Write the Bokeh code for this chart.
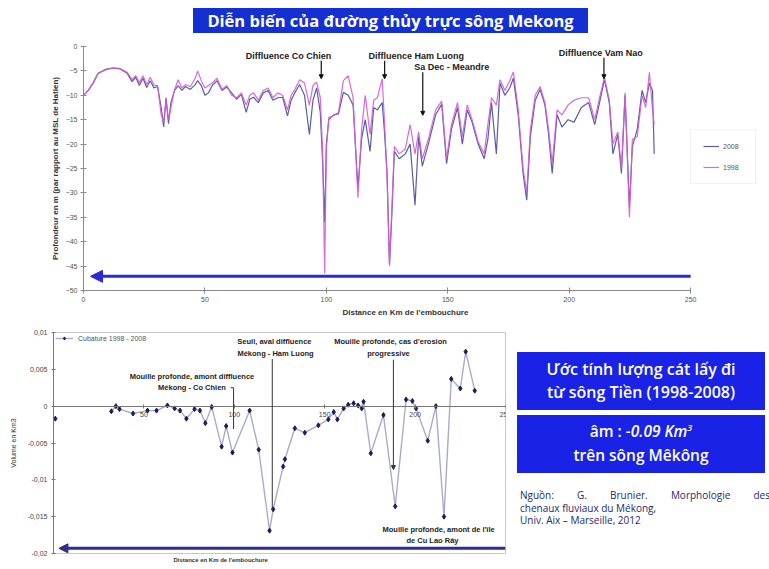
from bokeh.plotting import figure
from bokeh.models import (Legend, LegendItem, Arrow, NormalHead, Label, Div,
                          FixedTicker, Title, CustomJSTickFormatter, ColumnDataSource)
from bokeh.layouts import column, row
from bokeh.embed import file_html
from bokeh.resources import INLINE

# ---------------- data: top chart (thalweg depth, m) ----------------
km = [0, 2, 4, 6, 9, 12, 15, 18, 20, 21.5, 23, 24.5, 26, 27.5, 29, 30.5, 32, 33, 34, 35,
      36, 37.5, 39, 40.5, 42, 44, 46, 47, 48.5, 50, 51.5, 53, 55, 57, 59, 61, 63, 65, 67, 68.5,
      70, 72, 74, 76, 78, 80, 82, 84, 85.5, 87, 89, 91, 93, 94.5, 96, 97.5, 98.5, 99.3, 100, 101,
      103, 105, 107, 109, 111, 113, 114.5, 116, 118, 119.5, 121, 123, 124, 125, 126, 127, 128, 130,
      132.5, 134.5, 136.5, 138, 139.5, 142, 145, 147.5, 149.5, 151.5, 154, 156, 158, 160, 162.5,
      165, 166.5, 168, 170, 171.5, 173.5, 175.5, 177, 179, 181, 182.5, 184, 186, 188, 190, 191.5,
      193, 195, 197, 199.5, 202, 205, 208, 210.5, 212.5, 214.5, 216.5, 218, 220, 221.5, 223,
      224.8, 226, 228, 230, 231.5, 233, 234.3, 235]
depth_2008 = [-10, -9, -7.4, -5.5, -4.7, -4.4, -4.6, -5.5, -7.2, -6.3, -8.0, -6.5, -8.4, -7.0, -8.5,
              -8.2, -12.5, -16.5, -10.5, -15.8, -11.5, -9.0, -8.0, -9.0, -8.2, -8.8, -7.8, -7.0,
              -8.0, -10.0, -9.5, -8.0, -7.0, -9.0, -8.3, -9.5, -10.8, -9.8, -13.5, -10.8, -10.4,
              -11.5, -9.5, -9.0, -11.0, -10.5, -10.4, -14.2, -11.0, -9.5, -7.8, -10.0, -18.0,
              -11.0, -8.5, -13.5, -24.0, -36.0, -20.0, -15.0, -14.0, -13.8, -9.4, -10.0, -12.0,
              -29.0, -19.0, -15.0, -21.5, -12.5, -13.0, -11.5, -18.0, -26.0, -44.5, -34.0, -21.5,
              -23.0, -22.0, -20.0, -32.5, -18.5, -24.5, -20.0, -14.0, -11.8, -24.0, -17.0, -12.5,
              -20.0, -13.0, -15.5, -20.0, -23.0, -19.0, -11.5, -22.0, -7.5, -10.0, -8.5, -6.5,
              -14.0, -26.0, -31.5, -18.5, -11.0, -8.8, -12.0, -18.0, -26.0, -14.0, -16.5, -15.0,
              -15.5, -12.5, -11.5, -16.0, -11.5, -6.8, -11.5, -22.0, -18.0, -26.0, -10.0, -33.0,
              -20.5, -17.0, -9.0, -11.5, -7.5, -9.0, -22.0]
depth_1998 = [-10, -9, -7.5, -5.6, -4.8, -4.4, -4.5, -5.3, -6.8, -6.0, -7.4, -6.0, -7.8, -6.3, -7.9,
              -8.0, -14.0, -15.5, -11.0, -15.0, -12.5, -8.8, -6.8, -8.5, -7.8, -8.2, -6.5, -5.0,
              -7.0, -8.5, -8.0, -7.5, -6.5, -8.8, -8.0, -10.0, -10.5, -9.5, -12.0, -10.0, -9.5,
              -11.0, -9.0, -8.5, -10.5, -9.5, -10.0, -13.0, -10.0, -8.8, -6.8, -7.5, -12.0, -8.0,
              -7.3, -10.5, -22.0, -46.5, -21.0, -14.5, -14.2, -13.5, -7.0, -6.0, -10.5, -31.0,
              -17.0, -10.0, -18.0, -11.0, -10.5, -6.6, -16.0, -27.0, -45.0, -33.0, -20.5, -22.0,
              -21.0, -16.0, -22.0, -17.5, -23.0, -19.0, -13.0, -11.2, -23.0, -16.0, -11.5, -18.5,
              -12.0, -15.0, -19.5, -22.0, -16.0, -10.5, -12.0, -6.8, -9.0, -7.0, -5.2, -13.0,
              -25.0, -30.0, -17.0, -10.0, -8.2, -11.5, -17.0, -24.0, -13.0, -14.0, -12.0, -11.0,
              -10.5, -10.5, -15.0, -10.5, -6.3, -11.0, -20.0, -17.5, -25.0, -9.5, -35.0, -19.0,
              -18.5, -10.0, -12.5, -5.3, -13.0, -16.0]
top_x_ticks = [0, 50, 100, 150, 200, 250]
top_y_ticks = [0, -5, -10, -15, -20, -25, -30, -35, -40, -45, -50]

# ---------------- data: bottom chart (volume, km3) ----------------
vol_km = [1, 32, 34.5, 36.5, 44, 52, 57, 63, 67, 70, 73.5, 78, 81, 84, 87.5, 93, 95.5, 99,
          108.5, 113.5, 119.5, 121.5, 127, 128, 133.5, 139, 146.5, 152, 155, 157, 160.5, 163,
          166, 168.5, 170.5, 171.5, 175.5, 182.5, 189, 195, 198.5, 200.5, 207, 211.5, 216, 220,
          225, 228, 233]
vol = [-0.0017, -0.0007, 0.0, -0.0004, -0.001, -0.0006, -0.0006, 0.0001, -0.0003, -0.0006,
       -0.0017, -0.0004, -0.0006, -0.0023, -0.0001, -0.0055, -0.0027, -0.0063, -0.0006, -0.0059,
       -0.0169, -0.014, -0.0082, -0.0072, -0.003, -0.0036, -0.0026, -0.0018, -0.0008, -0.0018,
       -0.0003, 0.0002, 0.0004, 0.0001, -0.0003, 0.0006, -0.0064, -0.0012, -0.0136, 0.0009,
       0.0007, -0.0003, -0.0047, 0.0, -0.015, 0.0037, 0.0024, 0.0074, 0.0021]
bot_x_ticks = [50, 100, 150, 200, 250]
bot_y_ticks = [-0.02, -0.015, -0.01, -0.005, 0, 0.005, 0.01]

FONT = "Liberation Sans"
AXC = "#8a8a8a"
TXT = "#333333"

# ---------------- title box ----------------
title_div = Div(
    text='<div style="margin-left:193px;margin-top:8px;width:395px;height:25px;background:#1530d2;'
         'color:#ffffff;font-family:\'Open Sans\';font-weight:700;font-size:16.5px;line-height:25px;'
         'text-align:center;white-space:nowrap;">Diễn biến của đường thủy trực sông Mekong</div>',
    width=765, height=38, margin=(0, 0, 0, 0))

# ---------------- top chart ----------------
top = figure(width=765, height=282, x_range=(0, 280), y_range=(-50, 0),
             output_backend="svg", toolbar_location=None,
             min_border_left=83, min_border_right=2, min_border_top=8, min_border_bottom=30)
top.outline_line_color = None
top.grid.visible = False
top.xaxis.ticker = FixedTicker(ticks=top_x_ticks)
top.xaxis.bounds = (0, 250)
top.yaxis.ticker = FixedTicker(ticks=top_y_ticks)
for ax in (top.xaxis[0], top.yaxis[0]):
    ax.axis_line_color = AXC
    ax.major_tick_line_color = AXC
    ax.minor_tick_line_color = None
    ax.major_tick_in = 3
    ax.major_tick_out = 3
    ax.major_label_text_font = FONT
    ax.major_label_text_font_size = "7px"
    ax.major_label_text_color = "#555555"
    ax.major_label_standoff = 3
    ax.axis_label_text_font = FONT
    ax.axis_label_text_font_size = "8px"
    ax.axis_label_text_font_style = "bold"
    ax.axis_label_text_color = TXT
    ax.axis_label_standoff = 3
top.yaxis.axis_label = "Profondeur en m (par rapport au MSL de Hatien)"
top.add_layout(Title(text="Distance en Km de l'embouchure", align="left", offset=259,
                     text_font=FONT, text_font_size="8px", text_font_style="bold",
                     text_color=TXT, standoff=2), "below")

r08 = top.line(km, depth_2008, line_color="#5a5ea6", line_width=1.2)
r98 = top.line(km, depth_1998, line_color="#d55ad5", line_width=1.2, line_alpha=0.9)

legend = Legend(items=[LegendItem(label="2008", renderers=[r08]),
                       LegendItem(label="1998", renderers=[r98])],
                location=(607, 106), margin=0, padding=12, spacing=13,
                glyph_width=16, glyph_height=8, label_standoff=4,
                label_text_font=FONT, label_text_font_size="7px", label_text_color="#555555",
                border_line_color="#e4e4e4", background_fill_alpha=1)
top.add_layout(legend)

top_notes = [("Diffluence Co Chien", 84.4, -1.85), ("Diffluence Ham Luong", 137.0, -1.85),
             ("Sa Dec - Meandre", 151.6, -4.3), ("Diffluence Vam Nao", 213.0, -1.4)]
for t, x, y in top_notes:
    top.add_layout(Label(x=x, y=y, text=t, text_align="center", text_baseline="middle",
                         text_font=FONT, text_font_size="9px", text_font_style="bold",
                         text_color="#222222"))
top_arrows = [(97.9, -2.9, -6.6), (124.0, -2.9, -6.6), (139.7, -5.3, -14.1), (214.3, -2.3, -6.6)]
for x, y0, y1 in top_arrows:
    top.add_layout(Arrow(x_start=x, y_start=y0, x_end=x, y_end=y1, line_color="#111111",
                         line_width=1.2,
                         end=NormalHead(size=4, fill_color="#111111", line_color="#111111")))
top.add_layout(Arrow(x_start=250, y_start=-47.1, x_end=2.9, y_end=-47.1,
                     line_color="#2a2ad8", line_width=3,
                     end=NormalHead(size=12, fill_color="#2a2ad8", line_color="#2a2ad8")))

# ---------------- bottom chart ----------------
bot = figure(width=515, height=247, x_range=(0, 250), y_range=(-0.02, 0.01),
             output_backend="svg", toolbar_location=None,
             min_border_left=53, min_border_right=10, min_border_top=12, min_border_bottom=14)
bot.outline_line_color = "#c8c8c8"
bot.grid.visible = False
bot.xaxis.fixed_location = 0
bot.xaxis.ticker = FixedTicker(ticks=bot_x_ticks)
bot.yaxis.ticker = FixedTicker(ticks=bot_y_ticks)
bot.yaxis.formatter = CustomJSTickFormatter(code="return tick.toString().replace('.', ',');")
for ax in (bot.xaxis[0], bot.yaxis[0]):
    ax.axis_line_color = "#777777"
    ax.major_tick_line_color = "#777777"
    ax.minor_tick_line_color = None
    ax.major_tick_in = 2
    ax.major_tick_out = 2
    ax.major_label_text_font = FONT
    ax.major_label_text_font_size = "7px"
    ax.major_label_text_color = "#444444"
    ax.major_label_standoff = 4
bot.yaxis.axis_label = "Volume en Km3"
bot.yaxis.axis_label_text_font = FONT
bot.yaxis.axis_label_text_font_size = "7px"
bot.yaxis.axis_label_text_font_style = "normal"
bot.yaxis.axis_label_text_color = TXT
bot.yaxis.axis_label_standoff = 8
bot.add_layout(Title(text="Distance en Km de l'embouchure", align="left", offset=120,
                     text_font=FONT, text_font_size="6px", text_font_style="bold",
                     text_color=TXT, standoff=3), "below")

src_line = ColumnDataSource(dict(x=vol_km[1:], y=vol[1:]))
src_pts = ColumnDataSource(dict(x=vol_km, y=vol))
rl = bot.line("x", "y", source=src_line, line_color="#a9abc9", line_width=1.4)
rp = bot.scatter("x", "y", source=src_pts, marker="diamond", size=5,
                 fill_color="#1c1c5a", line_color="#1c1c5a")
bleg = Legend(items=[LegendItem(label="Cubature 1998 - 2008", renderers=[rl, rp])],
              location="top_left", margin=2, padding=4, glyph_width=18, glyph_height=8,
              label_text_font=FONT, label_text_font_size="7px", label_text_color="#555555",
              border_line_color=None, background_fill_alpha=0)
bot.add_layout(bleg)

bot_notes = [("Mouille profonde, amont diffluence", 76.6, 0.0040),
             ("Mékong - Co Chien", 76.6, 0.0026),
             ("Seuil, aval diffluence", 122.2, 0.0088),
             ("Mékong - Ham Luong", 122.8, 0.0071),
             ("Mouille profonde, cas d'erosion", 186.4, 0.0088),
             ("progressive", 185.3, 0.0071),
             ("Mouille profonde, amont de l'île", 213.0, -0.0168),
             ("de Cu Lao Rây", 209.6, -0.0182)]
for t, x, y in bot_notes:
    bot.add_layout(Label(x=x, y=y, text=t, text_align="center", text_baseline="middle",
                         text_font=FONT, text_font_size="7.5px", text_font_style="bold",
                         text_color="#222222"))
# leader lines
bot.add_layout(Arrow(x_start=98, y_start=0.0025, x_end=99.6, y_end=0.0025, end=None,
                     line_color="#333333", line_width=1))
bot.add_layout(Arrow(x_start=99.6, y_start=0.0025, x_end=99.6, y_end=-0.0031, end=None,
                     line_color="#333333", line_width=1))
bot.add_layout(Arrow(x_start=121, y_start=0.0064, x_end=121, y_end=-0.0141, end=None,
                     line_color="#333333", line_width=1))
bot.add_layout(Arrow(x_start=188, y_start=0.0063, x_end=188, y_end=-0.0086,
                     line_color="#333333", line_width=1,
                     end=NormalHead(size=4, fill_color="#333333", line_color="#333333")))
bot.add_layout(Arrow(x_start=250, y_start=-0.0193, x_end=3, y_end=-0.0193,
                     line_color="#2e2e8c", line_width=3,
                     end=NormalHead(size=9, fill_color="#2e2e8c", line_color="#2e2e8c")))

# ---------------- right boxes ----------------
box_style = ("width:248px;height:58px;background:#1a22e6;color:#ffffff;font-family:'Open Sans';"
             "font-weight:600;text-align:center;"
             "white-space:nowrap;overflow:hidden;box-sizing:border-box;")
box1 = Div(text=f'<div style="{box_style}font-size:16px;line-height:22.5px;padding-top:6px;">'
                'Ước tính lượng cát lấy đi<br>từ sông Tiền (1998-2008)</div>',
           width=248, height=58, margin=(32, 0, 0, 2))
box2 = Div(text=f'<div style="{box_style}font-size:15.5px;line-height:24px;padding-top:4px;">'
                'âm : <i>-0.09 Km<sup style="font-size:9px;line-height:0">3</sup></i>'
                '<br>trên sông Mêkông</div>',
           width=248, height=58, margin=(5, 0, 0, 2))
source_div = Div(
    text='<div style="width:250px;font-family:\'Open Sans\';font-size:10px;line-height:12.5px;'
         'color:#1b2a6e;">'
         '<div style="text-align:justify;text-align-last:justify;">Nguồn: G. Brunier. Morphologie des</div>'
         '<div>chenaux fluviaux du Mékong,</div>'
         '<div>Univ. Aix – Marseille, 2012</div></div>',
    width=245, height=40, margin=(16, 0, 0, 5))

right_col = column(box1, box2, source_div, width=250, height=247)
layout = column(title_div, top, row(bot, right_col))

open("out.html", "w").write(file_html(layout, INLINE))
